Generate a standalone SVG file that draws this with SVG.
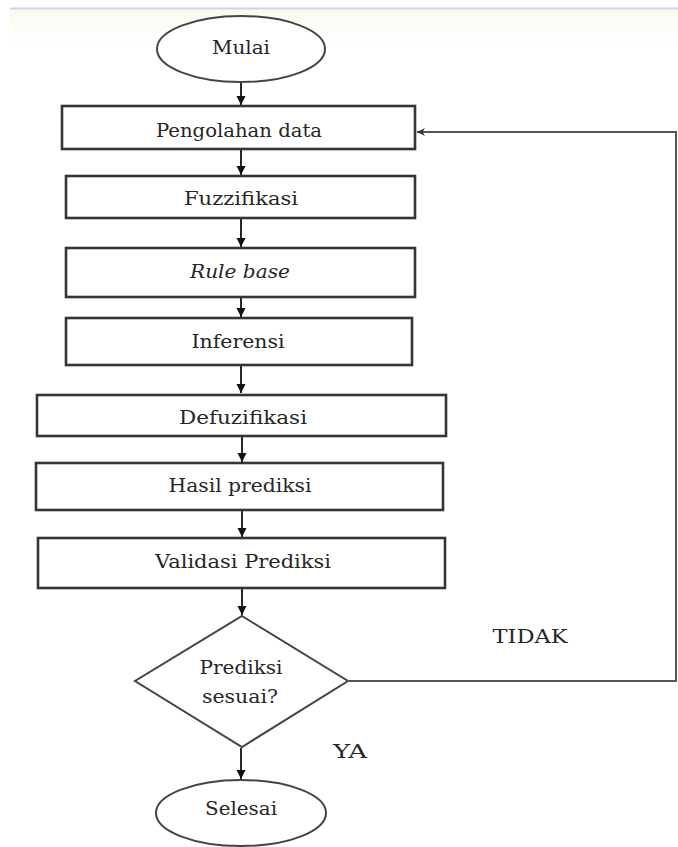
<svg xmlns="http://www.w3.org/2000/svg" width="678" height="847" viewBox="0 0 678 847">
<style>
.box{fill:#fff;stroke:#353535;stroke-width:2.6}
.shape{fill:#fff;stroke:#444;stroke-width:2}
.lbl{font-family:"DejaVu Serif","Liberation Serif",serif;font-size:18px;fill:#262626;text-anchor:middle}
.it{font-style:italic}
.con{fill:none;stroke:#111;stroke-width:1.8}
.fb{fill:none;stroke:#555;stroke-width:2}
</style>
<defs>
<marker id="ah" viewBox="0 0 10 10" refX="10" refY="5" markerWidth="9" markerHeight="10" markerUnits="userSpaceOnUse" orient="auto">
<path d="M0,0 L10,5 L0,10 z" fill="#111"/>
</marker>
<marker id="ah2" viewBox="0 0 10 10" refX="10" refY="5" markerWidth="10" markerHeight="8" markerUnits="userSpaceOnUse" orient="auto">
<path d="M0,0 L10,5 L0,10 L3,5 z" fill="#333"/>
</marker>
<linearGradient id="band" x1="0" y1="0" x2="0" y2="1">
<stop offset="0" stop-color="#fbf9ee"/>
<stop offset="1" stop-color="#ffffff"/>
</linearGradient>
</defs>
<rect width="678" height="847" fill="#fff"/>
<rect x="10" y="9" width="668" height="36" fill="url(#band)"/>
<line x1="10" y1="8.5" x2="678" y2="8.5" stroke="#c9d7ea" stroke-width="2"/>

<g id="connectors">
<line class="con" x1="241" y1="83" x2="241" y2="105" marker-end="url(#ah)"/>
<line class="con" x1="241" y1="150" x2="241" y2="175" marker-end="url(#ah)"/>
<line class="con" x1="241" y1="219" x2="241" y2="247" marker-end="url(#ah)"/>
<line class="con" x1="241" y1="298" x2="241" y2="317" marker-end="url(#ah)"/>
<line class="con" x1="241" y1="366" x2="241" y2="393" marker-end="url(#ah)"/>
<line class="con" x1="242" y1="437" x2="242" y2="462" marker-end="url(#ah)"/>
<line class="con" x1="242" y1="511" x2="242" y2="537" marker-end="url(#ah)"/>
<line class="con" x1="242" y1="589" x2="242" y2="615" marker-end="url(#ah)"/>
<line class="con" x1="241" y1="748" x2="241" y2="779" marker-end="url(#ah)"/>
<polyline class="fb" points="349,681 676,681 676,132 417,132" marker-end="url(#ah2)"/>
</g>

<g id="mulai">
<ellipse class="shape" cx="241" cy="49" rx="84" ry="33"/>
<text class="lbl" x="241" y="54" textLength="58" lengthAdjust="spacingAndGlyphs">Mulai</text>
</g>
<g id="pengolahan">
<rect class="box" x="62" y="106" width="353" height="43"/>
<text class="lbl" x="239" y="137" textLength="166" lengthAdjust="spacingAndGlyphs">Pengolahan data</text>
</g>
<g id="fuzzifikasi">
<rect class="box" x="66" y="176" width="349" height="42"/>
<text class="lbl" x="241" y="205" textLength="114" lengthAdjust="spacingAndGlyphs">Fuzzifikasi</text>
</g>
<g id="rulebase">
<rect class="box" x="66" y="248" width="349" height="49"/>
<text class="lbl it" x="240" y="278" textLength="100" lengthAdjust="spacingAndGlyphs">Rule base</text>
</g>
<g id="inferensi">
<rect class="box" x="66" y="318" width="346" height="47"/>
<text class="lbl" x="238" y="348" textLength="93" lengthAdjust="spacingAndGlyphs">Inferensi</text>
</g>
<g id="defuzifikasi">
<rect class="box" x="37" y="395" width="409" height="41"/>
<text class="lbl" x="243" y="424" textLength="128" lengthAdjust="spacingAndGlyphs">Defuzifikasi</text>
</g>
<g id="hasil">
<rect class="box" x="36" y="463" width="407" height="47"/>
<text class="lbl" x="240" y="492" textLength="143" lengthAdjust="spacingAndGlyphs">Hasil prediksi</text>
</g>
<g id="validasi">
<rect class="box" x="38" y="538" width="407" height="50"/>
<text class="lbl" x="243" y="568" textLength="176" lengthAdjust="spacingAndGlyphs">Validasi Prediksi</text>
</g>
<g id="keputusan">
<polygon class="shape" points="242,616 348,681 242,747 135,681"/>
<text class="lbl" x="241" y="674" textLength="83" lengthAdjust="spacingAndGlyphs">Prediksi</text>
<text class="lbl" x="240" y="703" textLength="76" lengthAdjust="spacingAndGlyphs">sesuai?</text>
</g>
<g id="selesai">
<ellipse class="shape" cx="241" cy="813" rx="85" ry="33"/>
<text class="lbl" x="241" y="815" textLength="72" lengthAdjust="spacingAndGlyphs">Selesai</text>
</g>
<g id="labels">
<text class="lbl" x="530" y="643" textLength="75" lengthAdjust="spacingAndGlyphs">TIDAK</text>
<text class="lbl" x="350" y="758" textLength="34" lengthAdjust="spacingAndGlyphs">YA</text>
</g>
</svg>
